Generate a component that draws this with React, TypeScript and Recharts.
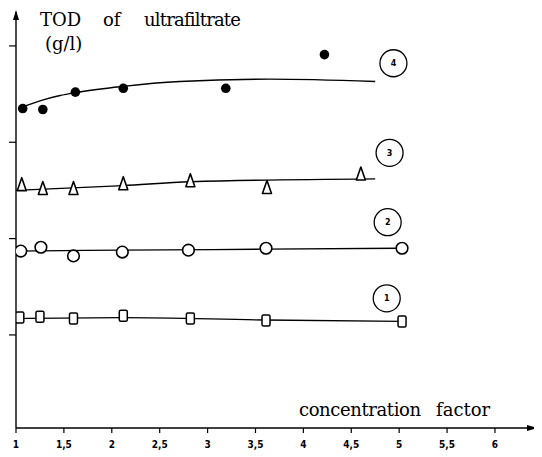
import { ComposedChart, Line, Scatter, XAxis, YAxis, ReferenceDot } from 'recharts';

// measured points, concentration factor vs TOD (g/l)
const curve4Points = [
  { x: 1.07, y: 3.35 }, { x: 1.28, y: 3.34 }, { x: 1.62, y: 3.52 },
  { x: 2.12, y: 3.56 }, { x: 3.19, y: 3.56 }, { x: 4.22, y: 3.91 },
];
const curve3Points = [
  { x: 1.06, y: 2.56 }, { x: 1.28, y: 2.52 }, { x: 1.6, y: 2.52 },
  { x: 2.12, y: 2.57 }, { x: 2.82, y: 2.6 }, { x: 3.62, y: 2.53 }, { x: 4.6, y: 2.67 },
];
const curve2Points = [
  { x: 1.05, y: 1.87 }, { x: 1.26, y: 1.91 }, { x: 1.6, y: 1.82 },
  { x: 2.11, y: 1.86 }, { x: 2.8, y: 1.88 }, { x: 3.61, y: 1.9 }, { x: 5.03, y: 1.9 },
];
const curve1Points = [
  { x: 1.04, y: 1.18 }, { x: 1.25, y: 1.19 }, { x: 1.6, y: 1.17 },
  { x: 2.12, y: 1.2 }, { x: 2.82, y: 1.17 }, { x: 3.61, y: 1.15 }, { x: 5.03, y: 1.14 },
];

// fitted curves
const fit4 = [
  { x: 1.05, y: 3.36 }, { x: 1.25, y: 3.43 }, { x: 1.46, y: 3.485 }, { x: 1.62, y: 3.515 },
  { x: 2.12, y: 3.58 }, { x: 2.71, y: 3.63 }, { x: 3.65, y: 3.655 }, { x: 4.75, y: 3.63 },
];
const fit3 = [
  { x: 1.0, y: 2.5 }, { x: 2.12, y: 2.55 }, { x: 2.82, y: 2.59 }, { x: 4.75, y: 2.62 },
];
const fit2 = [
  { x: 1.0, y: 1.87 }, { x: 2.1, y: 1.88 }, { x: 3.6, y: 1.89 }, { x: 5.03, y: 1.9 },
];
const fit1 = [
  { x: 1.0, y: 1.17 }, { x: 2.12, y: 1.18 }, { x: 3.6, y: 1.155 }, { x: 5.03, y: 1.14 },
];

const xTicks = [1, 1.5, 2, 2.5, 3, 3.5, 4, 4.5, 5, 5.5, 6];
const xTickLabels = ['1', '1,5', '2', '2,5', '3', '3,5', '4', '4,5', '5', '5,5', '6'];
const yTicks = [1, 2, 3, 4];

const curveLabels = [
  { id: '1', x: 4.87, y: 1.38 },
  { id: '2', x: 4.88, y: 2.17 },
  { id: '3', x: 4.9, y: 2.89 },
  { id: '4', x: 4.94, y: 3.82 },
];

const X_MIN = 1;
const X_MAX = 6.418;
const Y_MIN = 0.034;
const Y_MAX = 4.352;

const FilledDot = (p: any) => <circle cx={p.cx} cy={p.cy} r={4.8} fill="#000" />;
const OpenCircle = (p: any) => (
  <circle cx={p.cx} cy={p.cy} r={5.8} fill="#fff" stroke="#000" strokeWidth={1.6} />
);
const Triangle = (p: any) => (
  <path
    d={`M${p.cx},${p.cy - 7} L${p.cx + 4.5},${p.cy + 6} L${p.cx - 4.5},${p.cy + 6} Z`}
    fill="#fff"
    stroke="#000"
    strokeWidth={1.6}
    strokeLinejoin="round"
  />
);
const Square = (p: any) => (
  <rect x={p.cx - 4} y={p.cy - 5.5} width={8} height={11} rx={1.5} fill="#fff" stroke="#000" strokeWidth={1.5} />
);

const XTick = ({ x, y, payload }: any) => {
  const i = xTicks.indexOf(payload.value);
  return (
    <text x={x} y={y} dy={13} textAnchor="middle" fontSize={10} fontWeight="bold" fontFamily="DejaVu Sans Condensed, DejaVu Sans" fill="#000">
      {xTickLabels[i]}
    </text>
  );
};

const YTick = ({ y, payload }: any) => (
  <text x={1} y={y} dy={3} textAnchor="start" fontSize={8} fontWeight="bold" fontFamily="DejaVu Sans" fill="#000">
    {payload.value}
  </text>
);

const serif = 'DejaVu Serif';

const word = (left: number, top: number, size = 18): React.CSSProperties => ({
  position: 'absolute',
  left,
  top,
  fontFamily: serif,
  fontSize: size,
  lineHeight: 1,
  whiteSpace: 'nowrap',
});

export default function App() {
  return (
    <div style={{ position: 'relative', width: 542, height: 457, marginLeft: -8, marginTop: -8, background: '#fff' }}>
      <ComposedChart width={542} height={457} margin={{ top: 12, right: 7, bottom: 0, left: 0 }}>
        <XAxis
          type="number"
          dataKey="x"
          domain={[X_MIN, X_MAX]}
          ticks={xTicks}
          allowDataOverflow
          height={29}
          tickSize={5}
          tick={<XTick />}
          axisLine={{ stroke: '#000', strokeWidth: 1.4 }}
          tickLine={{ stroke: '#000', strokeWidth: 1.2 }}
        />
        <YAxis
          type="number"
          dataKey="y"
          domain={[Y_MIN, Y_MAX]}
          ticks={yTicks}
          allowDataOverflow
          width={16}
          tickSize={7}
          tick={<YTick />}
          axisLine={{ stroke: '#000', strokeWidth: 1.4 }}
          tickLine={{ stroke: '#000', strokeWidth: 1.2 }}
        />
        <Line data={fit4} dataKey="y" type="monotone" stroke="#000" strokeWidth={1.4} dot={false} isAnimationActive={false} />
        <Line data={fit3} dataKey="y" type="monotone" stroke="#000" strokeWidth={1.4} dot={false} isAnimationActive={false} />
        <Line data={fit2} dataKey="y" type="monotone" stroke="#000" strokeWidth={1.3} dot={false} isAnimationActive={false} />
        <Line data={fit1} dataKey="y" type="monotone" stroke="#000" strokeWidth={1.3} dot={false} isAnimationActive={false} />
        <Scatter data={curve4Points} shape={FilledDot} isAnimationActive={false} />
        <Scatter data={curve3Points} shape={Triangle} isAnimationActive={false} />
        <Scatter data={curve2Points} shape={OpenCircle} isAnimationActive={false} />
        <Scatter data={curve1Points} shape={Square} isAnimationActive={false} />
        {curveLabels.map((l) => (
          <ReferenceDot
            key={l.id}
            x={l.x}
            y={l.y}
            ifOverflow="visible"
            shape={(p: any) => (
              <g>
                <circle cx={p.cx} cy={p.cy} r={13.5} fill="#fff" stroke="#000" strokeWidth={1.3} />
                <text x={p.cx} y={p.cy} dy={3} textAnchor="middle" fontSize={8} fontWeight="bold" fontFamily="DejaVu Sans">
                  {l.id}
                </text>
              </g>
            )}
          />
        ))}
        <ReferenceDot
          x={X_MAX}
          y={Y_MIN}
          ifOverflow="visible"
          shape={(p: any) => <path d={`M${p.cx + 2},${p.cy} L${p.cx - 8},${p.cy - 3} L${p.cx - 8},${p.cy + 3} Z`} fill="#000" />}
        />
        <ReferenceDot
          x={X_MIN}
          y={Y_MAX}
          ifOverflow="visible"
          shape={(p: any) => <path d={`M${p.cx},${p.cy - 2} L${p.cx - 3},${p.cy + 8} L${p.cx + 3},${p.cy + 8} Z`} fill="#000" />}
        />
      </ComposedChart>
      <div style={word(40, 11)}>TOD</div>
      <div style={word(103, 11)}>of</div>
      <div style={{ ...word(144, 11), letterSpacing: -0.8 }}>ultrafiltrate</div>
      <div style={word(45, 35)}>(g/l)</div>
      <div style={{ ...word(299, 401), letterSpacing: -0.4 }}>concentration</div>
      <div style={word(436, 401)}>factor</div>
    </div>
  );
}
